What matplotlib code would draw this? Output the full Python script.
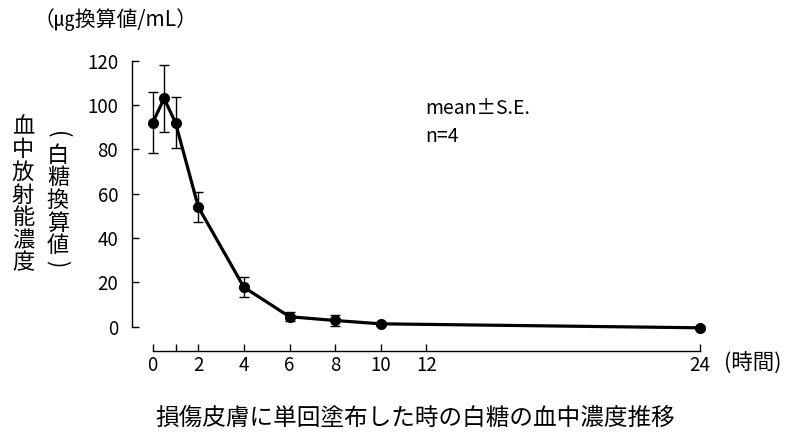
import matplotlib
matplotlib.use("Agg")
import matplotlib.pyplot as plt

plt.rcParams['font.family'] = ['Noto Sans CJK JP', 'DejaVu Sans']

# data (hours, mean, S.E.)
hours = [0, 0.5, 1, 2, 4, 6, 8, 10, 24]
conc = [92, 103, 92, 54, 17.8, 4.5, 2.8, 1.3, -0.5]
se = [13.7, 15, 11.5, 6.6, 4.5, 2, 2.3, 1, 0.5]

xticks = [0, 1, 2, 4, 6, 8, 10, 12, 24]
xticklabels = ['0', '', '2', '4', '6', '8', '10', '12', '24']
yticks = [0, 20, 40, 60, 80, 100, 120]

ylabel_main = '血中放射能濃度'
ylabel_sub = '白糖換算値'
unit_label = '（㎍換算値/mL）'
xlabel = '(時間)'
title = '損傷皮膚に単回塗布した時の白糖の血中濃度推移'
note = ['mean±S.E.', 'n=4']

W, H = 793, 432
fig = plt.figure(figsize=(W / 100, H / 100), dpi=100)
ax = fig.add_axes([152.7 / W, 1 - 326.7 / H, 547.3 / W, 266.0 / H])

ax.errorbar(hours, conc, yerr=se, color='black', lw=2.3, marker='o', ms=7,
            elinewidth=1.0, capsize=3.3, capthick=1.0, clip_on=False)

ax.set_xlim(0, 24)
ax.set_ylim(0, 120)
ax.set_xticks(xticks)
ax.set_xticklabels(xticklabels)
ax.set_yticks(yticks)

for s in ['top', 'right']:
    ax.spines[s].set_visible(False)
ax.spines['left'].set_position(('outward', 14.9))
ax.spines['bottom'].set_position(('outward', 17.5))
ax.spines['left'].set_linewidth(1.0)
ax.spines['bottom'].set_linewidth(1.0)
ax.tick_params(axis='both', direction='in', length=5, width=1.0, labelsize=13.5)
ax.tick_params(axis='y', pad=10)
ax.tick_params(axis='x', pad=3)


def px(x, y):
    return x / W, 1 - y / H


fig.text(*px(34, 20), unit_label, fontsize=15, ha='left', va='center')

# vertical y-axis labels, one character per line
for i, ch in enumerate(ylabel_main):
    fig.text(*px(23, 127 + i * 22.7), ch, fontsize=16, ha='center', va='center')
for i, ch in enumerate(ylabel_sub):
    fig.text(*px(58, 155 + i * 22.7), ch, fontsize=16, ha='center', va='center')
fig.text(*px(58, 135), '(', fontsize=16, ha='center', va='center', rotation=-90)
fig.text(*px(58, 264), ')', fontsize=16, ha='center', va='center', rotation=-90)

fig.text(*px(425, 109), note[0], fontsize=14, ha='left', va='center')
fig.text(*px(425, 136), note[1], fontsize=14, ha='left', va='center')

fig.text(*px(724, 363), xlabel, fontsize=15.5, ha='left', va='center')
fig.text(*px(415, 418), title, fontsize=17, ha='center', va='center')

fig.savefig('out.png', dpi=100)
